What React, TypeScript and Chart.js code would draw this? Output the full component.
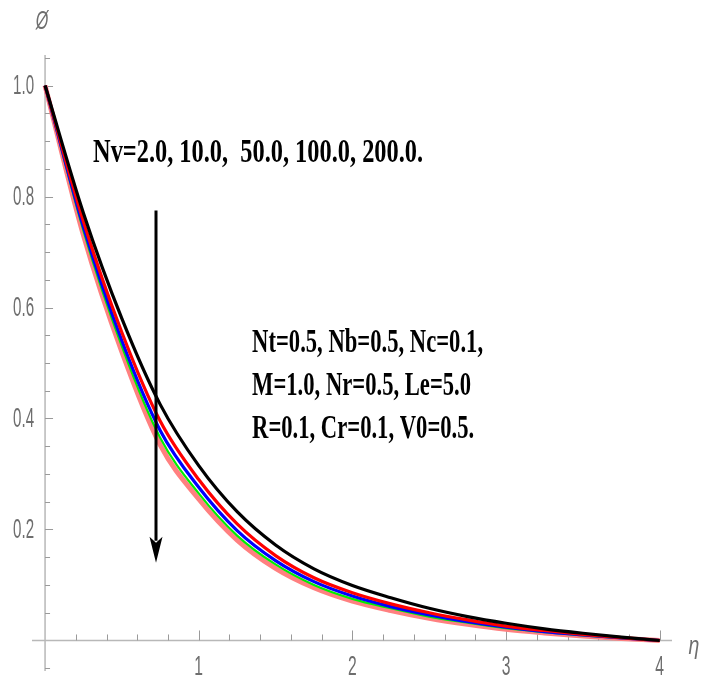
import React, { useEffect, useRef } from "react";
import { Chart, registerables } from "chart.js";

Chart.register(...registerables);

// ---- data ----
const etaValues = [0, 0.25, 0.5, 0.75, 1, 1.25, 1.5, 1.75, 2, 2.25, 2.5, 2.75, 3, 3.25, 3.5, 3.75, 4];
const phiNv2 = [1.0, 0.77, 0.58, 0.425, 0.315, 0.232, 0.172, 0.129, 0.099, 0.077, 0.058, 0.043, 0.031, 0.021, 0.013, 0.006, 0];
const phiNv10 = [1.0, 0.755, 0.555, 0.395, 0.29, 0.21, 0.153, 0.113, 0.086, 0.066, 0.05, 0.037, 0.026, 0.018, 0.011, 0.005, 0];
const phiNv50 = [1.0, 0.745, 0.54, 0.378, 0.276, 0.198, 0.144, 0.106, 0.08, 0.061, 0.046, 0.034, 0.024, 0.016, 0.01, 0.0045, 0];
const phiNv100 = [1.0, 0.738, 0.53, 0.365, 0.265, 0.189, 0.137, 0.1, 0.075, 0.058, 0.043, 0.032, 0.022, 0.015, 0.009, 0.004, 0];
const phiNv200 = [1.0, 0.73, 0.52, 0.352, 0.255, 0.181, 0.13, 0.095, 0.071, 0.054, 0.04, 0.029, 0.02, 0.0135, 0.008, 0.0035, 0];

const xMajorTicks = [1, 2, 3, 4];
const xTickLabels = ["1", "2", "3", "4"];
const xMinorTicks = [0.2, 0.4, 0.6, 0.8, 1.2, 1.4, 1.6, 1.8, 2.2, 2.4, 2.6, 2.8, 3.2, 3.4, 3.6, 3.8];
const yMajorTicks = [0.2, 0.4, 0.6, 0.8, 1.0];
const yTickLabels = ["0.2", "0.4", "0.6", "0.8", "1.0"];
const yMinorTicks = [-0.05, 0.05, 0.1, 0.15, 0.25, 0.3, 0.35, 0.45, 0.5, 0.55, 0.65, 0.7, 0.75, 0.85, 0.9, 0.95, 1.05];

const nvLabel = "Nv=2.0, 10.0,  50.0, 100.0, 200.0.";
const paramLines = ["Nt=0.5, Nb=0.5, Nc=0.1,", "M=1.0, Nr=0.5, Le=5.0", "R=0.1, Cr=0.1, V0=0.5."];
const xAxisTitle = "η";
const yAxisTitle = "Ø";

function toPoints(ys: number[]) {
  return ys.map((y, i) => ({ x: etaValues[i], y }));
}

function condensedText(ctx: CanvasRenderingContext2D, text: string, x: number, y: number, sx: number, align: CanvasTextAlign) {
  ctx.save();
  ctx.translate(x, y);
  ctx.scale(sx, 1);
  ctx.textAlign = align;
  ctx.fillText(text, 0, 0);
  ctx.restore();
}

const axesPlugin = {
  id: "mmaAxes",
  beforeDatasetsDraw(chart: any) {
    const ctx: CanvasRenderingContext2D = chart.ctx;
    const xs = chart.scales.x;
    const ys = chart.scales.y;
    const x0 = xs.getPixelForValue(0);
    const y0 = ys.getPixelForValue(0);
    const area = chart.chartArea;
    ctx.save();
    ctx.strokeStyle = "#b8b8b8";
    ctx.lineWidth = 1.5;
    ctx.beginPath();
    ctx.moveTo(area.left, y0);
    ctx.lineTo(area.right, y0);
    ctx.moveTo(x0, area.top);
    ctx.lineTo(x0, area.bottom);
    ctx.stroke();
    ctx.strokeStyle = "#9a9a9a";
    ctx.lineWidth = 1;
    ctx.beginPath();
    xMajorTicks.forEach((v) => {
      const px = Math.round(xs.getPixelForValue(v)) + 0.5;
      ctx.moveTo(px, y0);
      ctx.lineTo(px, y0 - 10);
    });
    xMinorTicks.forEach((v) => {
      const px = Math.round(xs.getPixelForValue(v)) + 0.5;
      ctx.moveTo(px, y0);
      ctx.lineTo(px, y0 - 6);
    });
    yMajorTicks.forEach((v) => {
      const py = Math.round(ys.getPixelForValue(v)) + 0.5;
      ctx.moveTo(x0, py);
      ctx.lineTo(x0 + 8, py);
    });
    yMinorTicks.forEach((v) => {
      const py = Math.round(ys.getPixelForValue(v)) + 0.5;
      ctx.moveTo(x0, py);
      ctx.lineTo(x0 + 5, py);
    });
    ctx.stroke();
    ctx.fillStyle = "#6e6e6e";
    ctx.font = "27px 'Liberation Sans', Arial, sans-serif";
    ctx.textBaseline = "middle";
    xMajorTicks.forEach((v, i) => {
      condensedText(ctx, xTickLabels[i], xs.getPixelForValue(v), y0 + 27, 0.58, "center");
    });
    yMajorTicks.forEach((v, i) => {
      condensedText(ctx, yTickLabels[i], x0 - 11, ys.getPixelForValue(v) + 1, 0.56, "right");
    });
    ctx.font = "italic 26px 'Liberation Sans', Arial, sans-serif";
    condensedText(ctx, yAxisTitle, x0 - 3, 22, 0.62, "center");
    condensedText(ctx, xAxisTitle, 694, y0 + 6, 0.75, "center");
    ctx.restore();
  },
  afterDatasetsDraw(chart: any) {
    const ctx: CanvasRenderingContext2D = chart.ctx;
    const xs = chart.scales.x;
    const ys = chart.scales.y;
    ctx.save();
    ctx.fillStyle = "#000";
    ctx.textBaseline = "alphabetic";
    ctx.font = "bold 34px 'Liberation Serif', 'Times New Roman', serif";
    const nvW = ctx.measureText(nvLabel).width;
    condensedText(ctx, nvLabel, xs.getPixelForValue(0.3123), ys.getPixelForValue(0.863), 330 / nvW, "left");
    const pW = ctx.measureText(paramLines[0]).width;
    const sxP = 231 / pW;
    const baselines = [0.5207, 0.4423, 0.364];
    paramLines.forEach((t, i) => {
      condensedText(ctx, t, xs.getPixelForValue(1.347), ys.getPixelForValue(baselines[i]), sxP, "left");
    });
    const ax = xs.getPixelForValue(0.722);
    const aTop = ys.getPixelForValue(0.775);
    const aTip = ys.getPixelForValue(0.14);
    const headLen = 26;
    const headHalf = 6.5;
    ctx.strokeStyle = "#000";
    ctx.lineWidth = 3;
    ctx.beginPath();
    ctx.moveTo(ax, aTop);
    ctx.lineTo(ax, aTip - headLen + 4);
    ctx.stroke();
    ctx.beginPath();
    ctx.moveTo(ax, aTip);
    ctx.lineTo(ax - headHalf, aTip - headLen);
    ctx.lineTo(ax, aTip - headLen + 6);
    ctx.lineTo(ax + headHalf, aTip - headLen);
    ctx.closePath();
    ctx.fill();
    ctx.restore();
  },
};

export default function App() {
  const canvasRef = useRef<HTMLCanvasElement | null>(null);
  useEffect(() => {
    if (!canvasRef.current) return;
    const mk = (data: number[], color: string, width: number) => ({
      data: toPoints(data),
      borderColor: color,
      backgroundColor: color,
      borderWidth: width,
      pointRadius: 0,
      fill: false,
      cubicInterpolationMode: "monotone" as const,
    });
    const chart = new Chart(canvasRef.current, {
      type: "line",
      data: {
        datasets: [
          mk(phiNv2, "#000000", 3.2),
          mk(phiNv10, "#ff0000", 3.2),
          mk(phiNv50, "#0000ff", 3.2),
          mk(phiNv100, "#00ee00", 2.2),
          mk(phiNv200, "#ff8080", 5),
        ],
      },
      options: {
        animation: false,
        responsive: false,
        devicePixelRatio: 1,
        layout: { padding: { left: 32, right: 40, top: 55, bottom: 10 } },
        plugins: { legend: { display: false }, tooltip: { enabled: false } },
        scales: {
          x: { type: "linear", min: -0.085, max: 4.08, display: false },
          y: { type: "linear", min: -0.055, max: 1.055, display: false },
        },
      },
      plugins: [axesPlugin],
    });
    return () => chart.destroy();
  }, []);
  return (
    <div style={{ position: "fixed", left: 0, top: 0, width: 712, height: 681, background: "#fff" }}>
      <canvas ref={canvasRef} width={712} height={681} style={{ display: "block" }} />
    </div>
  );
}
